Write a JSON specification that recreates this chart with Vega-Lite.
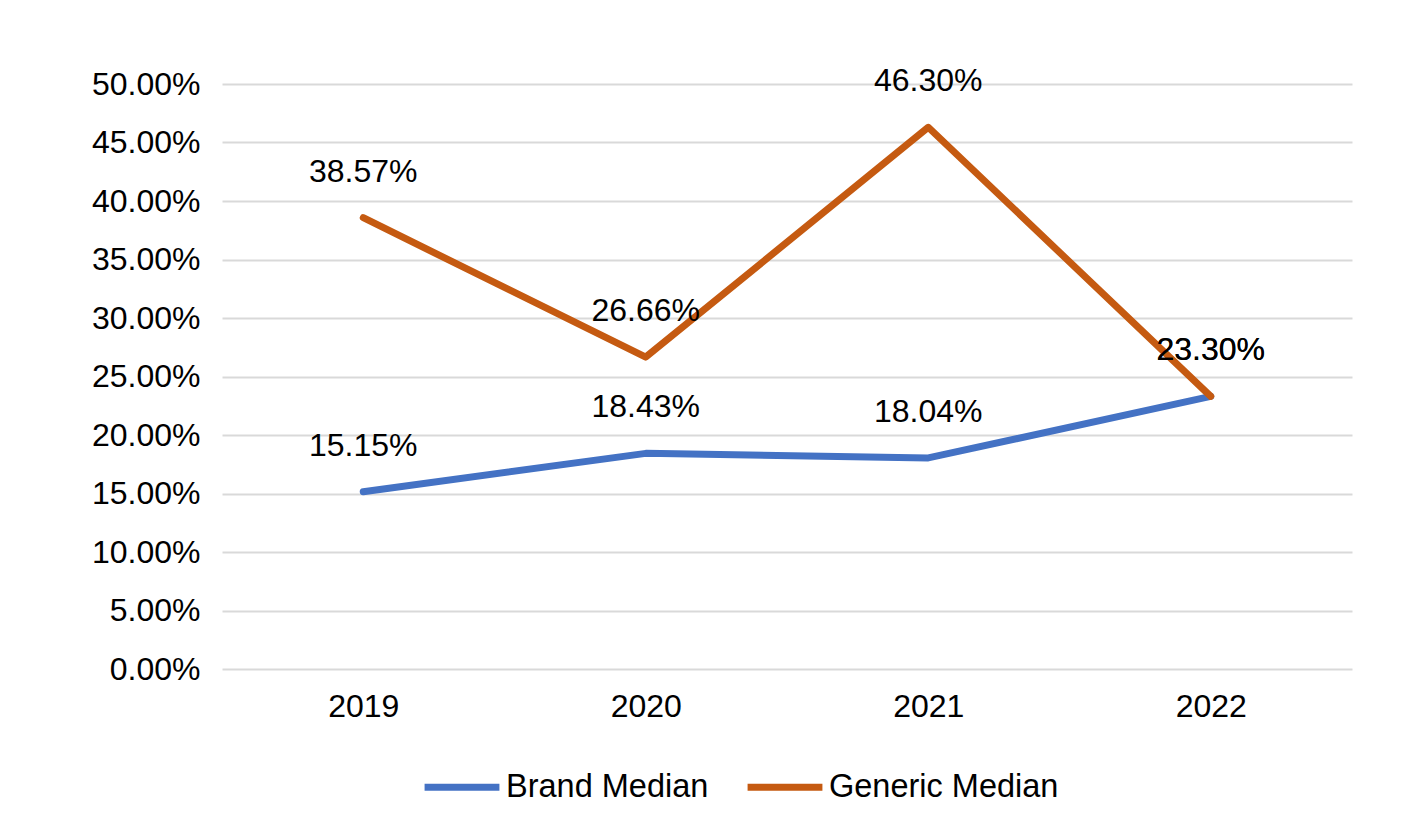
{
  "$schema": "https://vega.github.io/schema/vega-lite/v6.json",
  "autosize": {"type": "none"},
  "width": 1130,
  "height": 585,
  "padding": {"left": 222, "top": 84, "right": 57, "bottom": 153},
  "background": "white",
  "config": {
    "view": {"stroke": null},
    "font": "Liberation Sans",
    "axis": {"labelFont": "Liberation Sans", "labelFontSize": 32, "labelColor": "#000000"},
    "legend": {"labelFont": "Liberation Sans", "labelFontSize": 32.5, "labelColor": "#000000"}
  },
  "data": {
    "values": [
      {"year": "2019", "series": "Brand Median", "value": 0.1515},
      {"year": "2020", "series": "Brand Median", "value": 0.1843},
      {"year": "2021", "series": "Brand Median", "value": 0.1804},
      {"year": "2022", "series": "Brand Median", "value": 0.2330},
      {"year": "2019", "series": "Generic Median", "value": 0.3857},
      {"year": "2020", "series": "Generic Median", "value": 0.2666},
      {"year": "2021", "series": "Generic Median", "value": 0.4630},
      {"year": "2022", "series": "Generic Median", "value": 0.2330}
    ]
  },
  "encoding": {
    "x": {
      "field": "year", "type": "ordinal",
      "scale": {"type": "point", "padding": 0.5},
      "axis": {"title": null, "labelAngle": 0, "domain": false, "ticks": false, "labelPadding": 22, "grid": false}
    },
    "y": {
      "field": "value", "type": "quantitative",
      "scale": {"domain": [0, 0.5], "nice": false},
      "axis": {
        "title": null, "format": ".2%", "domain": false, "ticks": false, "labelPadding": 22,
        "values": [0, 0.05, 0.1, 0.15, 0.2, 0.25, 0.3, 0.35, 0.4, 0.45, 0.5],
        "grid": true, "gridColor": "#D9D9D9", "gridWidth": 2
      }
    }
  },
  "layer": [
    {
      "mark": {"type": "line", "strokeWidth": 7, "strokeCap": "round", "strokeJoin": "round"},
      "encoding": {
        "color": {
          "field": "series", "type": "nominal",
          "scale": {"domain": ["Brand Median", "Generic Median"], "range": ["#4472C4", "#C55A11"]},
          "legend": {
            "title": null, "orient": "none", "direction": "horizontal",
            "legendX": 199, "legendY": 662,
            "symbolType": "stroke", "symbolStrokeWidth": 7, "symbolSize": 5600,
            "labelOffset": 3, "columnPadding": 24, "labelLimit": 400
          }
        },
        "order": {"field": "series"}
      }
    },
    {
      "mark": {"type": "text", "fontSize": 32, "dy": -46, "baseline": "middle", "align": "center", "color": "#000000"},
      "encoding": {
        "text": {"field": "value", "type": "quantitative", "format": ".2%"}
      }
    }
  ]
}
